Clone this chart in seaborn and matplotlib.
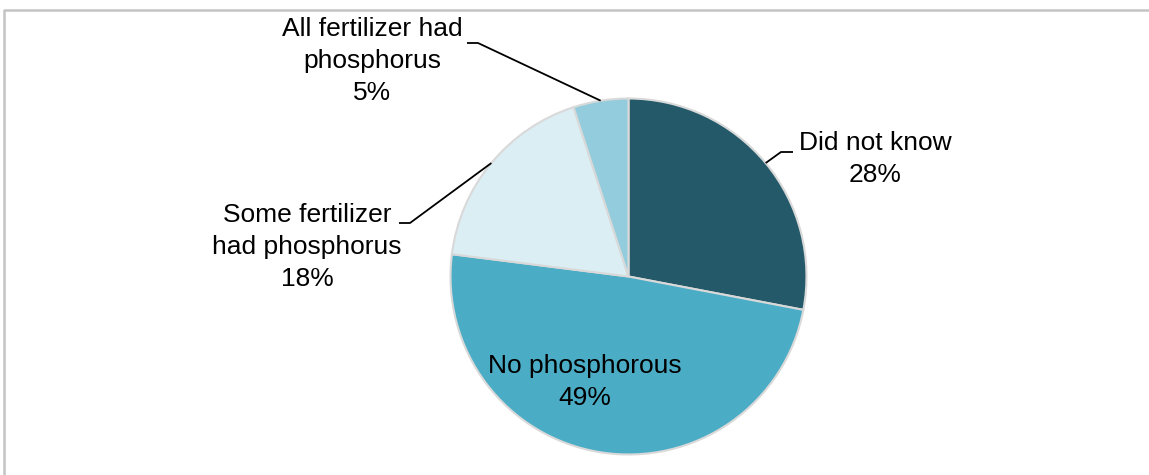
import numpy as np
import matplotlib
matplotlib.use("Agg")
import matplotlib.pyplot as plt
import seaborn as sns

# data
categories = ["Did not know", "No phosphorous", "Some fertilizer\nhad phosphorus", "All fertilizer had\nphosphorus"]
shares = [28, 49, 18, 5]
colors = ["#235968", "#4BACC6", "#DBEEF4", "#93CDDD"]

sns.set_style("white")
plt.rcParams["font.family"] = ["Liberation Sans", "DejaVu Sans"]

W, H = 1149, 475
fig = plt.figure(figsize=(W / 100, H / 100), dpi=100)
ax = fig.add_axes([0, 0, 1, 1])


def py(y):
    # pixel row (from top) -> data y
    return H - y


cx, cy, r = 628.5, py(276.5), 178
wedges, _ = ax.pie(shares, colors=colors, startangle=90, counterclock=False,
                   center=(cx, cy), radius=r,
                   wedgeprops=dict(edgecolor="#D9D9D9", linewidth=1.5))
ax.set_xlim(0, W)
ax.set_ylim(0, H)
ax.set_aspect("equal")
ax.axis("off")

# label text positions (pixel) and leader elbows
labels = {
    0: dict(xy=(875, 159), elbow=[(793, 152), (781, 152)]),
    1: dict(xy=(585, 382), elbow=None),
    2: dict(xy=(307, 247), elbow=[(399, 223), (410, 223)]),
    3: dict(xy=(372, 61), elbow=[(467, 43), (478, 43)]),
}
for i, w in enumerate(wedges):
    txt = f"{categories[i]}\n{shares[i]}%"
    lx, ly = labels[i]["xy"]
    ax.text(lx, py(ly), txt, ha="center", va="center", fontsize=19,
            linespacing=1.42, color="black")
    el = labels[i]["elbow"]
    if el:
        mid = np.deg2rad((w.theta1 + w.theta2) / 2)
        ex, ey = cx + r * np.cos(mid), cy + r * np.sin(mid)
        xs = [p[0] for p in el] + [ex]
        ys = [py(p[1]) for p in el] + [ey]
        ax.plot(xs, ys, color="black", lw=1.3, solid_capstyle="butt")

# chart frame
ax.plot([3.5, 3.5, W + 5], [-5, py(9.5), py(9.5)], color="#C4C4C4", lw=1.8,
        clip_on=False)

fig.savefig("out.png", dpi=100)
